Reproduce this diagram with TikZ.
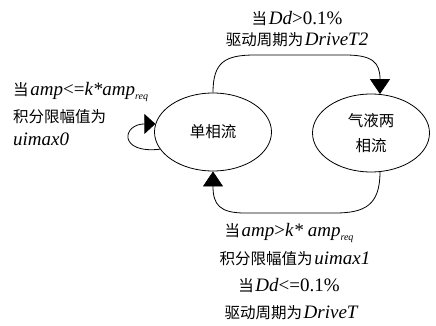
\documentclass[tikz,border=0pt]{standalone}
\usepackage{fontspec}
\setmainfont{Liberation Serif}
\newfontfamily\cjk{Noto Sans CJK SC}
\usetikzlibrary{shapes.geometric,arrows.meta}
\newcommand\zh[1]{{\cjk\fontsize{15.5}{17}\selectfont #1}}
\newcommand\li[1]{{\fontsize{19}{20}\selectfont\itshape #1}}
\newcommand\lu[1]{{\fontsize{19}{20}\selectfont #1}}
\newcommand\subr[1]{\raisebox{-4pt}{\fontsize{10}{10}\selectfont\itshape #1}}
\begin{document}
\begin{tikzpicture}[x=1pt,y=-1pt,
  state/.style={draw, line width=0.8pt, ellipse, minimum width=117pt, minimum height=78pt, inner sep=0pt, align=center, font=\cjk\fontsize{15.5}{25}\selectfont},
  lbl/.style={inner sep=0pt, anchor=base},
  conn/.style={line width=0.8pt, -{Triangle[length=15pt,width=20pt]}},
  loopconn/.style={line width=0.8pt, -{Triangle[length=11pt,width=20pt]}}]
\useasboundingbox (0,0) rectangle (436,326);
\node[state] (e1) at (213,132) {单相流};
\node[state] (e2) at (371,133) {气液两\\相流};
% top transition
\draw[conn] (e1.north) .. controls (213,62) and (225,55) .. (255,55) -- (345,55) .. controls (372,55) and (380,62) .. (e2.77);
% bottom transition
\draw[conn] (e2.-77) .. controls (380,205) and (365,213) .. (335,213) -- (245,213) .. controls (220,213) and (213,205) .. (e1.south);
% self loop
\draw[loopconn] (e1.198) .. controls (118,154) and (122,124) .. (e1.172);
% top labels
\node[lbl] (t1) at (297,25) {\zh{当}\,\li{Dd}\lu{>0.1\%}};
\node[lbl] (t2) at (297,46) {\zh{驱动周期为}\,\li{DriveT2}};
% left labels
\node[lbl, anchor=base west] (l1) at (13,96) {\zh{当}\,\li{amp}\lu{<=}\li{k*amp}\subr{req}};
\node[lbl, anchor=base west] (l2) at (13,123) {\zh{积分限幅值为}};
\node[lbl, anchor=base west] (l3) at (13,146) {\li{uimax0}};
% bottom labels
\node[lbl] (b1) at (289,236) {\zh{当}\,\li{amp}\lu{>}\li{k* amp}\subr{req}};
\node[lbl] (b2) at (295,264) {\zh{积分限幅值为}\,\li{uimax1}};
\node[lbl] (b3) at (289,291) {\zh{当}\,\li{Dd}\lu{<=0.1\%}};
\node[lbl] (b4) at (291,318) {\zh{驱动周期为}\,\li{DriveT}};
\end{tikzpicture}
\end{document}
